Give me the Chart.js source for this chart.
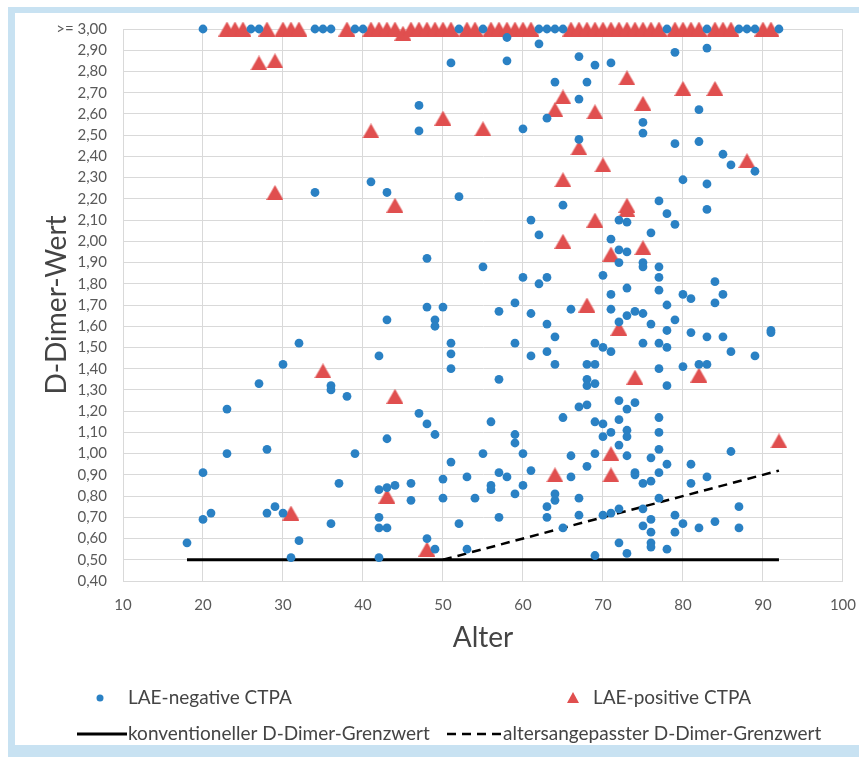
<!DOCTYPE html>
<html>
<head>
<meta charset="utf-8">
<script src="https://cdn.jsdelivr.net/npm/chart.js@4/dist/chart.umd.min.js"></script>
<style>
html, body { margin: 0; padding: 0; background: #fff; overflow: hidden; width: 859px; height: 757px; }
.strip { position: absolute; background: #c8e2f2; }
#chart { position: absolute; left: 0; top: 0; }
</style>
</head>
<body>
<div class="strip" style="left:8px;top:7px;width:851px;height:6px"></div>
<div class="strip" style="left:8px;top:7px;width:7px;height:750px"></div>
<div class="strip" style="left:8px;top:745px;width:851px;height:12px"></div>
<canvas id="chart" width="859" height="757"></canvas>
<script>
// [Alter, D-Dimer-Wert], 3.00 means ">= 3,00"
const negativeCTPA = [
    [20,3],[26,3],[27,3],[34,3],[35,3],[36,3],[39,3],[40,3],[52,3],[55,3],[62,3],[63,3],[64,3],[65,3],
    [78,3],[83,3],[87,3],[88,3],[89,3],[92,3],
    [58,2.96],[62,2.93],[51,2.84],[58,2.85],[64,2.75],[67,2.87],[67,2.67],[47,2.64],[47,2.52],[60,2.53],
    [63,2.58],[67,2.48],[69,2.83],[71,2.84],[68,2.75],[79,2.89],[83,2.91],[82,2.62],[75,2.56],[75,2.51],
    [79,2.46],[82,2.47],[85,2.41],[86,2.36],[89,2.33],
    [34,2.23],[41,2.28],[43,2.23],[52,2.21],[77,2.19],[80,2.29],[83,2.27],[65,2.17],[83,2.15],[72,2.10],
    [73,2.09],[78,2.13],[79,2.08],[76,2.04],[71,2.01],[61,2.10],[62,2.03],
    [72,1.96],[73,1.95],[72,1.90],[75,1.90],[75,1.88],[77,1.88],[77,1.83],[70,1.84],[84,1.81],[73,1.78],
    [71,1.75],[77,1.77],[80,1.75],[81,1.73],[85,1.75],[84,1.71],[66,1.68],[71,1.68],[78,1.70],[73,1.65],
    [74,1.67],[75,1.66],[76,1.61],[79,1.63],[72,1.62],[48,1.92],[55,1.88],[60,1.83],[63,1.83],[62,1.80],
    [48,1.69],[50,1.69],[57,1.67],[59,1.71],[61,1.66],[43,1.63],[49,1.63],[49,1.60],[63,1.61],
    [78,1.58],[81,1.57],[83,1.55],[85,1.55],[91,1.58],[91,1.57],[69,1.52],[70,1.50],[71,1.48],[75,1.52],
    [77,1.52],[78,1.50],[86,1.48],[89,1.46],[68,1.42],[69,1.42],[77,1.40],[80,1.41],[82,1.42],[83,1.42],
    [64,1.55],[32,1.52],[51,1.52],[59,1.52],[61,1.46],[63,1.48],[64,1.42],[30,1.42],[42,1.46],[51,1.47],
    [51,1.40],
    [68,1.35],[68,1.32],[69,1.33],[78,1.32],[57,1.35],[36,1.32],[36,1.30],[38,1.27],[27,1.33],[23,1.21],
    [67,1.22],[68,1.23],[72,1.25],[73,1.21],[74,1.24],
    [47,1.19],[65,1.17],[77,1.17],[69,1.15],[70,1.14],[72,1.16],[71,1.10],[73,1.11],[73,1.08],[70,1.08],
    [77,1.10],[72,1.04],[77,1.02],[69,1.00],[66,0.99],[73,0.99],[86,1.01],[48,1.14],[49,1.09],[56,1.15],
    [59,1.09],[59,1.05],[60,1.00],[55,1.00],[43,1.07],[39,1.00],[23,1.00],[28,1.02],
    [76,0.98],[78,0.95],[81,0.95],[68,0.94],[66,0.89],[74,0.91],[74,0.90],[75,0.86],[76,0.87],[77,0.91],
    [81,0.86],[83,0.89],[67,0.79],[77,0.79],[51,0.96],[37,0.86],[42,0.83],[43,0.84],[44,0.85],[46,0.86],
    [46,0.78],[50,0.88],[50,0.79],[53,0.89],[54,0.79],[56,0.85],[56,0.83],[57,0.91],[58,0.89],[59,0.81],
    [60,0.85],[61,0.92],[64,0.81],[64,0.78],[20,0.91],
    [87,0.75],[87,0.65],[67,0.71],[70,0.71],[71,0.72],[72,0.74],[75,0.74],[76,0.69],[79,0.71],[75,0.66],
    [76,0.63],[76,0.58],[76,0.56],[79,0.63],[80,0.67],[82,0.65],[84,0.68],[72,0.58],[73,0.53],[78,0.55],
    [69,0.52],[65,0.65],[52,0.67],[57,0.70],[63,0.70],[63,0.75],[36,0.67],[42,0.70],[42,0.65],[43,0.65],
    [42,0.51],[31,0.51],[32,0.59],[30,0.72],[48,0.60],[49,0.55],[53,0.55],[20,0.69],[21,0.72],[18,0.58],
    [28,0.72],[29,0.75]
];

const positiveCTPA = [
    [23,3],[24,3],[25,3],[28,3],[30,3],[31,3],[32,3],[38,3],[41,3],[42,3],[43,3],[44,3],[45,2.98],[46,3],
    [47,3],[48,3],[49,3],[50,3],[51,3],[53,3],[54,3],[56,3],[57,3],[58,3],[59,3],[60,3],[61,3],[66,3],
    [67,3],[68,3],[69,3],[70,3],[71,3],[72,3],[73,3],[74,3],[75,3],[76,3],[77,3],[79,3],[80,3],[81,3],
    [82,3],[84,3],[85,3],[86,3],[90,3],[91,3],
    [27,2.84],[29,2.85],[29,2.23],[41,2.52],[50,2.58],[55,2.53],[64,2.62],[65,2.68],[67,2.44],[65,2.29],
    [73,2.77],[80,2.72],[84,2.72],[75,2.65],[69,2.61],[70,2.36],[88,2.38],[44,2.17],[73,2.17],[73,2.15],
    [69,2.10],[65,2.00],[75,1.97],[71,1.94],[68,1.70],[72,1.59],[74,1.36],[82,1.37],[35,1.39],[44,1.27],
    [71,1.00],[71,0.90],[92,1.06],[64,0.90],[43,0.80],[31,0.72],[48,0.55]
];

// cut-off lines
const konvAlter = [18, 92];
const konvWert = [0.5, 0.5];
const adjAlter = [50, 92];
const adjWert = [0.5, 0.92];

const xTicks = [10, 100, 10];        // min, max, step
const yTicks = [0.4, 3.0, 0.1];
const topLabel = '>= 3,00';

const blue = '#2a81c4';
const red = '#e04f4f';
const textColor = '#595959';
const titleColor = '#444';

function toPoints(pairs) {
    return pairs.map(p => ({x: p[0], y: p[1]}));
}
function zipPoints(xs, ys) {
    return xs.map((x, i) => ({x: x, y: ys[i]}));
}

// triangle centred on its box, like the office marker
function triangleImage(w, h, color) {
    let c = document.createElement('canvas');
    c.width = w;
    c.height = h;
    let g = c.getContext('2d');
    g.fillStyle = color;
    g.beginPath();
    g.moveTo(w / 2, 0);
    g.lineTo(w, h);
    g.lineTo(0, h);
    g.closePath();
    g.fill();
    return c;
}

const legendPlugin = {
    id: 'bottomLegend',
    afterDraw(chart) {
        let ctx = chart.ctx;
        ctx.save();
        ctx.font = '19px Lato';
        ctx.textBaseline = 'middle';

        ctx.fillStyle = blue;
        ctx.beginPath();
        ctx.arc(100, 698, 3.5, 0, Math.PI * 2);
        ctx.fill();
        ctx.drawImage(triangleImage(12, 11, red), 567, 692);

        ctx.strokeStyle = '#000';
        ctx.lineWidth = 3;
        ctx.beginPath();
        ctx.moveTo(77, 734);
        ctx.lineTo(127, 734);
        ctx.stroke();
        ctx.lineWidth = 2.5;
        ctx.setLineDash([9, 6]);
        ctx.beginPath();
        ctx.moveTo(447, 734);
        ctx.lineTo(501, 734);
        ctx.stroke();
        ctx.setLineDash([]);

        ctx.fillStyle = titleColor;
        ctx.fillText('LAE-negative CTPA', 128, 698);
        ctx.fillText('LAE-positive CTPA', 593, 698);
        ctx.fillText('konventioneller D-Dimer-Grenzwert', 128, 734);
        ctx.fillText('altersangepasster D-Dimer-Grenzwert', 503, 734);
        ctx.restore();
    }
};

Chart.defaults.font.family = 'Lato';
Chart.defaults.color = textColor;

new Chart(document.getElementById('chart'), {
    type: 'scatter',
    data: {
        datasets: [
            {
                label: 'LAE-negative CTPA',
                data: toPoints(negativeCTPA),
                pointStyle: 'circle',
                pointRadius: 4.4,
                pointBorderWidth: 0,
                backgroundColor: blue,
                clip: false
            },
            {
                label: 'LAE-positive CTPA',
                data: toPoints(positiveCTPA),
                pointStyle: triangleImage(17, 15, red),
                backgroundColor: red,
                clip: false
            },
            {
                type: 'line',
                label: 'konventioneller D-Dimer-Grenzwert',
                data: zipPoints(konvAlter, konvWert),
                borderColor: '#000',
                borderWidth: 3,
                pointRadius: 0,
                showLine: true,
                clip: false
            },
            {
                type: 'line',
                label: 'altersangepasster D-Dimer-Grenzwert',
                data: zipPoints(adjAlter, adjWert),
                borderColor: '#000',
                borderWidth: 2.5,
                borderDash: [9, 6],
                pointRadius: 0,
                showLine: true,
                clip: false
            }
        ]
    },
    options: {
        responsive: false,
        animation: false,
        devicePixelRatio: 1,
        layout: {padding: {left: 0, top: 29, right: 16, bottom: 95}},
        plugins: {legend: {display: false}, tooltip: {enabled: false}},
        scales: {
            x: {
                type: 'linear',
                min: xTicks[0],
                max: xTicks[1],
                ticks: {stepSize: xTicks[2], padding: 3, font: {size: 15}, color: textColor},
                grid: {color: '#d9d9d9', drawTicks: true, tickLength: 12, tickColor: 'rgba(0,0,0,0)'},
                border: {color: '#d9d9d9'},
                title: {display: true, text: 'Alter', font: {size: 28}, color: titleColor, padding: {top: 0, bottom: 7}},
                afterFit(scale) { scale.height = 81; }
            },
            y: {
                type: 'linear',
                min: yTicks[0],
                max: yTicks[1],
                ticks: {
                    stepSize: yTicks[2],
                    autoSkip: false,
                    padding: 16,
                    font: {size: 15},
                    color: textColor,
                    callback: v => Math.abs(v - 3) < 1e-9 ? topLabel : v.toFixed(2).replace('.', ',')
                },
                grid: {color: '#d9d9d9', drawTicks: false},
                border: {color: '#d9d9d9'},
                title: {display: true, text: 'D-Dimer-Wert', font: {size: 28}, color: titleColor, padding: {top: 40, bottom: 0}},
                afterFit(scale) { scale.width = 123; }
            }
        }
    },
    plugins: [legendPlugin]
});
</script>
</body>
</html>
